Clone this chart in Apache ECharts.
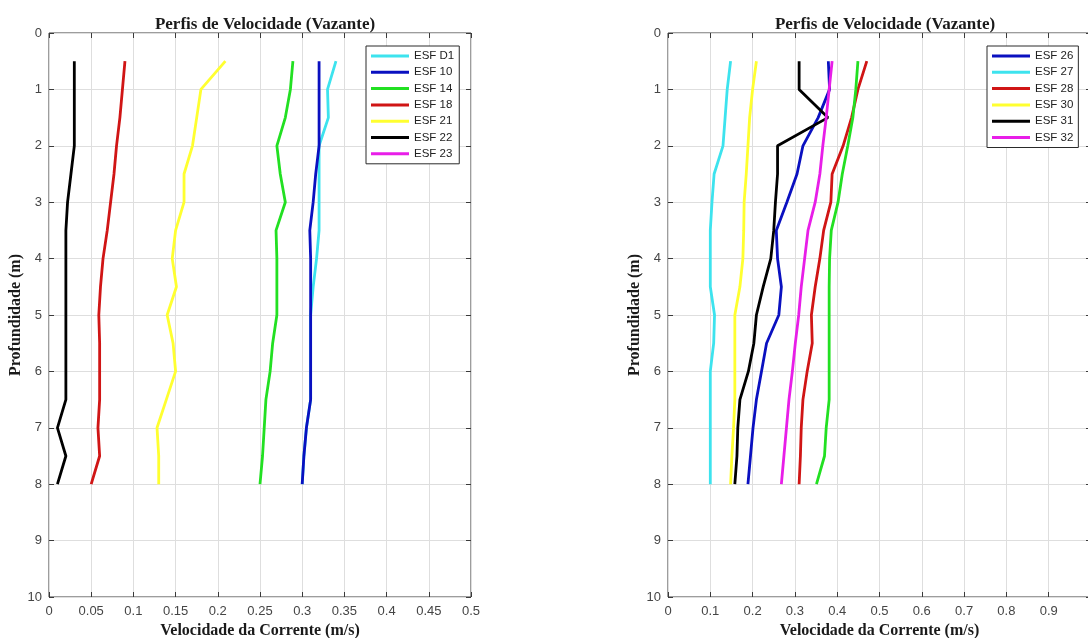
<!DOCTYPE html>
<html><head><meta charset="utf-8">
<script src="https://cdn.jsdelivr.net/npm/echarts@6/dist/echarts.min.js"></script>
<style>html,body{margin:0;padding:0;background:#fff}#c{width:1088px;height:638px}</style>
</head><body><div id="c"></div>
<script>
const depths = [0.5,1,1.5,2,2.5,3,3.5,4,4.5,5,5.5,6,6.5,7,7.5,8];
// Left chart
const leftNames = ['ESF D1','ESF 10','ESF 14','ESF 18','ESF 21','ESF 22','ESF 23'];
const esfD1 = [0.34,0.33,0.331,0.32,0.32,0.32,0.32,0.317,0.313,0.31,0.31,0.31,0.31,0.305,0.302,0.30];
const esf10 = [0.32,0.32,0.32,0.32,0.316,0.313,0.309,0.31,0.31,0.31,0.31,0.31,0.31,0.305,0.302,0.30];
const esf14 = [0.289,0.286,0.28,0.27,0.274,0.28,0.269,0.27,0.27,0.27,0.265,0.262,0.257,0.255,0.253,0.25];
const esf18 = [0.09,0.087,0.084,0.08,0.077,0.073,0.069,0.064,0.061,0.059,0.06,0.06,0.06,0.058,0.06,0.05];
const esf21 = [0.209,0.18,0.175,0.17,0.16,0.16,0.15,0.146,0.151,0.14,0.147,0.15,0.139,0.128,0.13,0.13];
const esf22 = [0.03,0.03,0.03,0.03,0.026,0.022,0.02,0.02,0.02,0.02,0.02,0.02,0.02,0.01,0.02,0.01];
const esf23 = [];
// Right chart
const rightNames = ['ESF 26','ESF 27','ESF 28','ESF 30','ESF 31','ESF 32'];
const esf26 = [0.379,0.382,0.355,0.319,0.305,0.281,0.256,0.259,0.268,0.262,0.233,0.221,0.209,0.201,0.195,0.189];
const esf27 = [0.148,0.14,0.135,0.13,0.109,0.104,0.10,0.10,0.10,0.11,0.108,0.10,0.10,0.10,0.10,0.10];
const esf28 = [0.47,0.449,0.434,0.414,0.388,0.385,0.368,0.359,0.348,0.339,0.341,0.329,0.319,0.315,0.313,0.31];
const esf29 = [0.449,0.444,0.437,0.425,0.412,0.402,0.386,0.382,0.381,0.381,0.381,0.381,0.381,0.374,0.37,0.351];
const esf30 = [0.209,0.20,0.193,0.189,0.185,0.18,0.179,0.177,0.17,0.158,0.158,0.158,0.158,0.155,0.151,0.148];
const esf31 = [0.31,0.31,0.378,0.259,0.259,0.254,0.25,0.243,0.225,0.209,0.203,0.19,0.17,0.165,0.163,0.158];
const esf32 = [0.388,0.381,0.374,0.366,0.359,0.348,0.331,0.323,0.315,0.309,0.301,0.294,0.286,0.28,0.274,0.268];

const C = {cyan:'#3de3ee', blue:'#0a10c0', green:'#22e022', red:'#d01515', yellow:'#ffff30', black:'#000000', magenta:'#e81ee8'};
const pairs = v => v.map((x,i)=>[x, depths[i]]);
function ser(name, vals, color, grid){
  return {name, type:'line', data:pairs(vals), xAxisIndex: grid*2, yAxisIndex: grid*2,
    symbol:'none', showSymbol:false, lineStyle:{color, width:2.8}, itemStyle:{color}, z:2, animation:false};
}
const axC = '#3a3a3a', gridC = '#dedede', labC = '#454545';
const tickFont = {fontFamily:'Liberation Sans, Arial, sans-serif', fontSize:13, color:labC};
const nameFont = {fontFamily:'Liberation Serif, Times New Roman, serif', fontWeight:'bold', fontSize:16, color:'#1a1a1a'};
// ticks point inward: axes are shifted 5px into the plot and draw 5px outward ticks; the box is the grid border
const OFF = -5;
const tick = {show:true, inside:false, length:5, lineStyle:{color:axC,width:1}};
const noLine = {show:false, onZero:false};
function xAxes(grid, max, interval, hideMax){
  return [
    {type:'value', gridIndex:grid, min:0, max, interval, position:'bottom', offset:OFF,
     axisLine:noLine, axisTick:tick,
     axisLabel:{...tickFont, margin:13, showMaxLabel:!hideMax, formatter: v=>String(+v.toFixed(2))},
     splitLine:{show:true,lineStyle:{color:gridC,width:1}},
     name:'Velocidade da Corrente (m/s)', nameLocation:'middle', nameGap:31, nameTextStyle:nameFont},
    {type:'value', gridIndex:grid, min:0, max, interval, position:'top', offset:OFF,
     axisLine:noLine, axisTick:tick, axisLabel:{show:false}, splitLine:{show:false}}
  ];
}
function yAxes(grid){
  return [
    {type:'value', gridIndex:grid, min:0, max:10, interval:1, inverse:true, position:'left', offset:OFF,
     axisLine:noLine, axisTick:tick,
     axisLabel:{...tickFont, margin:12}, splitLine:{show:true,lineStyle:{color:gridC,width:1}},
     name:'Profundidade (m)', nameLocation:'middle', nameGap:28, nameRotate:90, nameTextStyle:nameFont},
    {type:'value', gridIndex:grid, min:0, max:10, interval:1, inverse:true, position:'right', offset:OFF,
     axisLine:noLine, axisTick:tick, axisLabel:{show:false}, splitLine:{show:false}}
  ];
}
const legendBase = {orient:'vertical', icon:'rect', itemWidth:38, itemHeight:3, itemGap:4.3, padding:[4,5,4,5],
  backgroundColor:'#fff', borderColor:'#2a2a2a', borderWidth:1, borderRadius:0,
  textStyle:{fontFamily:'Liberation Sans, Arial, sans-serif', fontSize:11.5, lineHeight:12, color:'#222'}};

const chart = echarts.init(document.getElementById('c'), null, {renderer:'canvas'});
chart.setOption({
  animation:false,
  backgroundColor:'#ffffff',
  title:[
    {text:'Perfis de Velocidade (Vazante)', left:260, top:11, textAlign:'center', textStyle:{...nameFont, fontSize:17}},
    {text:'Perfis de Velocidade (Vazante)', left:880, top:11, textAlign:'center', textStyle:{...nameFont, fontSize:17}}
  ],
  grid:[
    {left:49, top:33, width:422, height:564, containLabel:false, outerBoundsMode:'none', show:true, borderColor:axC, borderWidth:1, backgroundColor:'transparent'},
    {left:668, top:33, width:423, height:564, containLabel:false, outerBoundsMode:'none', show:true, borderColor:axC, borderWidth:1, backgroundColor:'transparent'}
  ],
  xAxis:[...xAxes(0,0.5,0.05,false), ...xAxes(1,1,0.1,true)],
  yAxis:[...yAxes(0), ...yAxes(1)],
  legend:[
    {...legendBase, data:leftNames, left:366, top:46},
    {...legendBase, data:rightNames, left:987, top:46}
  ],
  series:[
    ser('ESF D1', esfD1, C.cyan, 0),
    ser('ESF 10', esf10, C.blue, 0),
    ser('ESF 14', esf14, C.green, 0),
    ser('ESF 18', esf18, C.red, 0),
    ser('ESF 21', esf21, C.yellow, 0),
    ser('ESF 22', esf22, C.black, 0),
    ser('ESF 23', esf23, C.magenta, 0),
    ser('ESF 26', esf26, C.blue, 1),
    ser('ESF 27', esf27, C.cyan, 1),
    ser('ESF 28', esf28, C.red, 1),
    ser('ESF 29', esf29, C.green, 1),
    ser('ESF 30', esf30, C.yellow, 1),
    ser('ESF 31', esf31, C.black, 1),
    ser('ESF 32', esf32, C.magenta, 1)
  ]
});
</script></body></html>
